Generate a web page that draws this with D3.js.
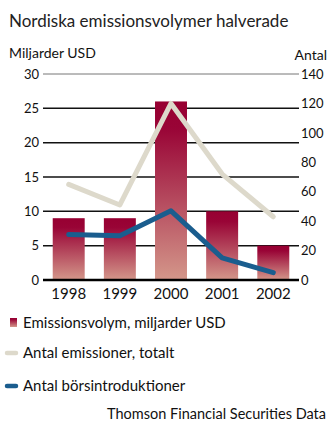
<!DOCTYPE html>
<html>
<head>
<meta charset="utf-8">
<script src="https://cdn.jsdelivr.net/npm/d3@7"></script>
<style>
  html, body { margin: 0; padding: 0; background: #fff; }
  svg { display: block; font-family: Lato, "Open Sans", sans-serif; }
</style>
</head>
<body>
<svg id="chart" width="327" height="421"></svg>
<script>
// Nordic issuance volumes, 1998–2002
const years = ["1998", "1999", "2000", "2001", "2002"];
const volume = [9, 9, 26, 10, 5];          // billions USD (left axis)
const totalIssues = [65, 51, 120, 72, 43]; // count (right axis)
const ipos = [31, 30, 47, 15, 5];          // count (right axis)
const leftTicks = [0, 5, 10, 15, 20, 25, 30];
const rightTicks = [0, 20, 40, 60, 80, 100, 120, 140];

const svg = d3.select("#chart");
const plot = { left: 43, right: 299, top: 74, bottom: 280 };

const x = d3.scaleBand().domain(years).range([plot.left, plot.right])
  .paddingInner(0.375).paddingOuter(0.19);
const yL = d3.scaleLinear().domain([0, 30]).range([plot.bottom, plot.top]);
const yR = d3.scaleLinear().domain([0, 140]).range([plot.bottom, plot.top]);

const defs = svg.append("defs");
const grad = defs.append("linearGradient").attr("id", "barGrad")
  .attr("x1", 0).attr("y1", 0).attr("x2", 0).attr("y2", 1);
grad.append("stop").attr("offset", "0%").attr("stop-color", "#970032");
grad.append("stop").attr("offset", "15%").attr("stop-color", "#990436");
grad.append("stop").attr("offset", "100%").attr("stop-color", "#d4978a");

// Title and axis titles
svg.append("text").attr("x", 9).attr("y", 27)
  .attr("font-size", 17).attr("fill", "#222")
  .text("Nordiska emissionsvolymer halverade");
svg.append("text").attr("x", 9).attr("y", 58)
  .attr("font-size", 14).attr("fill", "#111")
  .text("Miljarder USD");
svg.append("text").attr("x", 327).attr("y", 60).attr("text-anchor", "end")
  .attr("font-size", 14).attr("fill", "#111")
  .text("Antal");

// Horizontal gridlines
svg.append("g").selectAll("line").data(leftTicks.filter(d => d > 0)).join("line")
  .attr("x1", plot.left).attr("x2", plot.right)
  .attr("y1", d => yL(d)).attr("y2", d => yL(d))
  .attr("stroke", d => d === 30 ? "#777" : "#111")
  .attr("stroke-width", d => d === 30 ? 1 : 1.5);

// Left axis labels
svg.append("g").selectAll("text").data(leftTicks).join("text")
  .attr("x", 39).attr("y", d => yL(d)).attr("dy", "0.36em")
  .attr("text-anchor", "end").attr("font-size", 13).attr("fill", "#111")
  .text(d => d);

// Right axis labels
svg.append("g").selectAll("text").data(rightTicks).join("text")
  .attr("x", 301).attr("y", d => yR(d)).attr("dy", "0.36em")
  .attr("text-anchor", "start").attr("font-size", 13).attr("fill", "#111")
  .text(d => d);

// Bars
svg.append("g").selectAll("rect").data(years).join("rect")
  .attr("x", d => x(d)).attr("width", x.bandwidth())
  .attr("y", (d, i) => yL(volume[i]))
  .attr("height", (d, i) => yL(0) - yL(volume[i]))
  .attr("fill", "url(#barGrad)");

// Baseline
svg.append("line").attr("x1", plot.left).attr("x2", plot.right)
  .attr("y1", plot.bottom).attr("y2", plot.bottom)
  .attr("stroke", "#000").attr("stroke-width", 2.5);

// Lines
const line = d3.line().x(d => x(d.year) + x.bandwidth() / 2).y(d => yR(d.v));
const series = [
  { values: totalIssues, color: "#ddd9cb" },
  { values: ipos, color: "#1a5d8e" }
];
series.forEach(s => {
  svg.append("path")
    .datum(years.map((y, i) => ({ year: y, v: s.values[i] })))
    .attr("d", line).attr("fill", "none")
    .attr("stroke", s.color).attr("stroke-width", 5)
    .attr("stroke-linecap", "round").attr("stroke-linejoin", "round");
});

// X axis labels
svg.append("g").selectAll("text").data(years).join("text")
  .attr("x", d => x(d) + x.bandwidth() / 2).attr("y", 299)
  .attr("text-anchor", "middle").attr("font-size", 15).attr("fill", "#111")
  .text(d => d);

// Legend
const legend = svg.append("g");
legend.append("rect").attr("x", 10).attr("y", 318).attr("width", 7).attr("height", 9)
  .attr("fill", "url(#barGrad)");
legend.append("text").attr("x", 23).attr("y", 323).attr("dy", "0.36em")
  .attr("font-size", 15).attr("fill", "#111").text("Emissionsvolym, miljarder USD");

legend.append("line").attr("x1", 7).attr("x2", 16).attr("y1", 353).attr("y2", 353)
  .attr("stroke", "#ddd9cb").attr("stroke-width", 4.5).attr("stroke-linecap", "round");
legend.append("text").attr("x", 23).attr("y", 353).attr("dy", "0.36em")
  .attr("font-size", 15).attr("fill", "#111").text("Antal emissioner, totalt");

legend.append("line").attr("x1", 7).attr("x2", 16).attr("y1", 386).attr("y2", 386)
  .attr("stroke", "#1a5d8e").attr("stroke-width", 4.5).attr("stroke-linecap", "round");
legend.append("text").attr("x", 23).attr("y", 386).attr("dy", "0.36em")
  .attr("font-size", 15).attr("fill", "#111").text("Antal börsintroduktioner");

// Source
svg.append("text").attr("x", 326).attr("y", 419).attr("text-anchor", "end")
  .attr("font-size", 14.5).attr("fill", "#111").text("Thomson Financial Securities Data");
</script>
</body>
</html>
